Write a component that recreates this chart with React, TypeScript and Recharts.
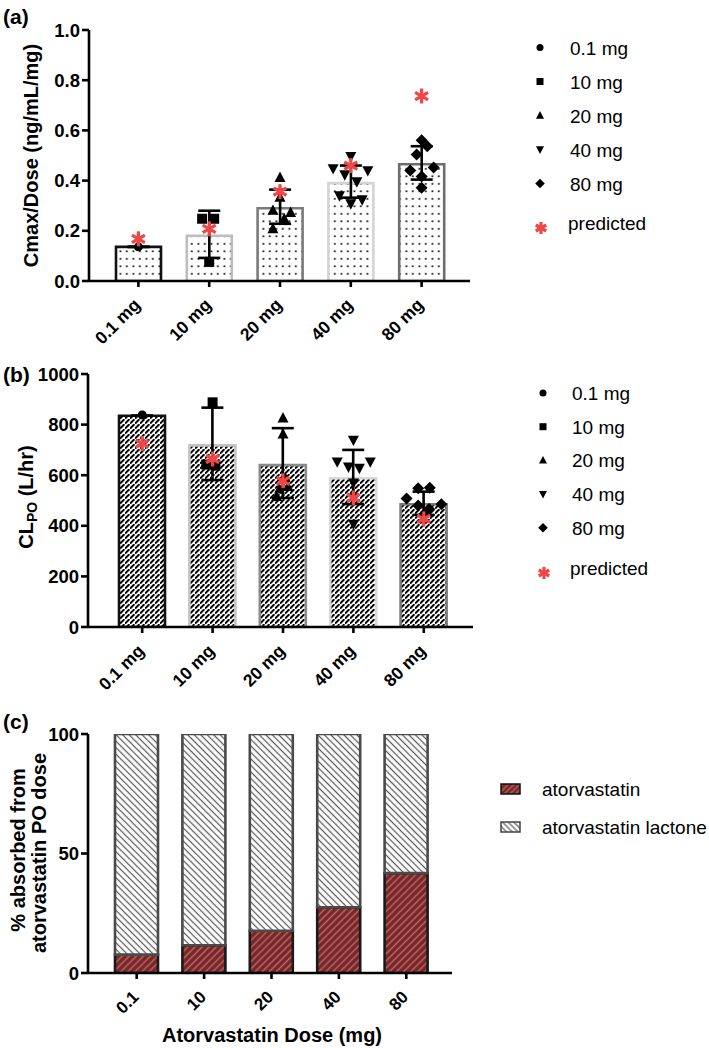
import React from "react";
import { ComposedChart, Bar, Scatter, XAxis, YAxis, ErrorBar, Cell } from "recharts";

const FONT = "'Liberation Sans', Arial, Helvetica, sans-serif";

// ---------- categories ----------
const doseLabels = ["0.1 mg", "10 mg", "20 mg", "40 mg", "80 mg"];
const doseShort = ["0.1", "10", "20", "40", "80"];

// ---------- panel (a): Cmax/Dose ----------
const cmaxMean = [0.136, 0.18, 0.29, 0.39, 0.465];
const cmaxSdLow = [0, 0.088, 0.062, 0.058, 0.061];
const cmaxSdHigh = [0, 0.1, 0.074, 0.07, 0.072];
const cmaxObs01 = [0.136];
const cmaxJit01 = [0];
const cmaxObs10 = [0.248, 0.248, 0.076];
const cmaxJit10 = [-0.1, 0.07, 0];
const cmaxObs20 = [0.412, 0.333, 0.281, 0.273, 0.248, 0.208];
const cmaxJit20 = [0, 0, -0.1, 0.15, 0.06, -0.1];
const cmaxObs40 = [0.496, 0.448, 0.44, 0.424, 0.396, 0.34, 0.324, 0.308];
const cmaxJit40 = [0, -0.25, 0.24, -0.085, 0.085, -0.16, 0.16, 0];
const cmaxObs80 = [0.561, 0.537, 0.504, 0.452, 0.44, 0.416, 0.372];
const cmaxJit80 = [0, 0.08, -0.07, 0.17, -0.16, 0, 0];
const cmaxPred = [0.168, 0.208, 0.356, 0.46, 0.737];
const cmaxTicks = [0, 0.2, 0.4, 0.6, 0.8, 1.0];

// ---------- panel (b): CL_PO ----------
const clMean = [835, 718, 640, 588, 485];
const clSdLow = [0, 137, 130, 102, 42];
const clSdHigh = [0, 149, 146, 112, 50];
const clObs01 = [838];
const clJit01 = [0];
const clObs10 = [888, 642, 638];
const clJit10 = [0, -0.09, 0.04];
const clObs20 = [826, 762, 590, 555, 545, 515];
const clJit20 = [0, 0, 0.03, 0.07, -0.05, -0.09];
const clObs40 = [739, 653, 653, 633, 628, 570, 510, 407];
const clJit40 = [0, -0.23, 0.24, -0.07, 0.085, 0, 0, 0];
const clObs80 = [550, 548, 508, 485, 480, 466, 445];
const clJit80 = [0.085, -0.08, -0.245, 0.25, -0.08, 0.075, 0];
const clPred = [725, 664, 578, 510, 427];
const clTicks = [0, 200, 400, 600, 800, 1000];

// ---------- panel (c): % absorbed ----------
const atorvaPct = [7.7, 11.6, 17.7, 27.5, 41.8];
const lactonePct = [92.3, 88.4, 82.3, 72.5, 58.2];
const pctTicks = [0, 50, 100];

const seriesNamesC = ["atorvastatin", "atorvastatin lactone"];
const markerKinds = ["circle", "square", "up", "down", "diamond"];
const RED = "#EF4646";

// ---------- helpers ----------
const pts = (i: number, vals: number[], jit: number[]) => vals.map((v, k) => ({ x: i + jit[k], y: v }));

function Marker({ kind, cx, cy, s }: any) {
  if (cx == null || cy == null || isNaN(cx) || isNaN(cy)) return null;
  const h = s / 2;
  switch (kind) {
    case "circle":
      return <circle cx={cx} cy={cy} r={h} fill="#000" />;
    case "square":
      return <rect x={cx - h} y={cy - h} width={s} height={s} fill="#000" />;
    case "up":
      return <polygon points={`${cx},${cy - h * 1.1} ${cx - h},${cy + h * 0.8} ${cx + h},${cy + h * 0.8}`} fill="#000" />;
    case "down":
      return <polygon points={`${cx},${cy + h * 1.1} ${cx - h},${cy - h * 0.8} ${cx + h},${cy - h * 0.8}`} fill="#000" />;
    case "diamond":
      return <polygon points={`${cx},${cy - h * 1.2} ${cx + h * 1.2},${cy} ${cx},${cy + h * 1.2} ${cx - h * 1.2},${cy}`} fill="#000" />;
    case "star": {
      const c = Math.cos(Math.PI / 6) * h;
      const sn = Math.sin(Math.PI / 6) * h;
      return (
        <g stroke={RED} strokeWidth={3.2}>
          <line x1={cx} y1={cy - h} x2={cx} y2={cy + h} />
          <line x1={cx - c} y1={cy - sn} x2={cx + c} y2={cy + sn} />
          <line x1={cx - c} y1={cy + sn} x2={cx + c} y2={cy - sn} />
        </g>
      );
    }
    default:
      return null;
  }
}

const shapeOf = (kind: string, s: number) => (p: any) => <Marker kind={kind} cx={p.cx} cy={p.cy} s={s} />;

const RotTick = (props: any) => {
  const { x, y, payload, fs } = props;
  return (
    <g transform={`translate(${x + 3},${y + 17}) rotate(-45)`}>
      <text x={0} y={0} textAnchor="end" fontFamily={FONT} fontWeight={700} fontSize={fs} fill="#000">
        {payload.value}
      </text>
    </g>
  );
};

const AX = { stroke: "#000", strokeWidth: 2.6 };
const YTICK = { fill: "#000", fontSize: 18.5, fontWeight: 700, fontFamily: FONT };

function PanelAB(props: any) {
  const { top, height, rows, domain, ticks, fmt, barSize, pad, yAxisWidth, marginRight, strokes, fill, patternDef, groups } = props;
  return (
    <div style={{ position: "absolute", left: 0, top }}>
      <ComposedChart width={490} height={height} data={rows} margin={{ top: 30, right: marginRight, bottom: 0, left: 0 }}>
        <defs>{patternDef}</defs>
        <XAxis xAxisId="cat" dataKey="dose" type="category" padding={pad} height={72} axisLine={AX} tickLine={AX} tickSize={6} tickMargin={2} interval={0} tick={<RotTick fs={17.5} />} />
        <XAxis xAxisId="num" dataKey="x" type="number" domain={[-0.5, 4.5]} allowDataOverflow padding={pad} hide />
        <YAxis width={yAxisWidth} type="number" domain={domain} ticks={ticks} interval={0} allowDataOverflow tickFormatter={fmt} axisLine={AX} tickLine={AX} tickSize={7} tickMargin={2} tick={YTICK} />
        <Bar xAxisId="cat" dataKey="mean" barSize={barSize} isAnimationActive={false}>
          {rows.map((r: any, i: number) => (
            <Cell key={i} fill={fill} stroke={strokes[i]} strokeWidth={2.6} />
          ))}
          <ErrorBar dataKey="err" width={11} strokeWidth={2.6} stroke="#000" direction="y" />
        </Bar>
        {groups.map((g: any, i: number) => (
          <Scatter key={i} xAxisId="num" data={g.data} dataKey="y" shape={shapeOf(g.kind, g.size)} isAnimationActive={false} />
        ))}
      </ComposedChart>
    </div>
  );
}

const aRows = doseLabels.map((d, i) => ({ dose: d, mean: cmaxMean[i], err: [cmaxSdLow[i], cmaxSdHigh[i]] }));
const bRows = doseLabels.map((d, i) => ({ dose: d, mean: clMean[i], err: [clSdLow[i], clSdHigh[i]] }));
const cRows = doseShort.map((d, i) => ({ dose: d, atorva: atorvaPct[i], lactone: lactonePct[i] }));

const aGroups = [
  { kind: "circle", size: 9, data: pts(0, cmaxObs01, cmaxJit01) },
  { kind: "square", size: 10, data: pts(1, cmaxObs10, cmaxJit10) },
  { kind: "up", size: 11, data: pts(2, cmaxObs20, cmaxJit20) },
  { kind: "down", size: 11, data: pts(3, cmaxObs40, cmaxJit40) },
  { kind: "diamond", size: 10, data: pts(4, cmaxObs80, cmaxJit80) },
  { kind: "star", size: 15, data: cmaxPred.map((v, i) => ({ x: i, y: v })) },
];
const bGroups = [
  { kind: "circle", size: 9, data: pts(0, clObs01, clJit01) },
  { kind: "square", size: 10, data: pts(1, clObs10, clJit10) },
  { kind: "up", size: 11, data: pts(2, clObs20, clJit20) },
  { kind: "down", size: 11, data: pts(3, clObs40, clJit40) },
  { kind: "diamond", size: 10, data: pts(4, clObs80, clJit80) },
  { kind: "star", size: 15, data: clPred.map((v, i) => ({ x: i, y: v })) },
];

const dotsDef = (
  <pattern id="dotsA" width={6.5} height={7.5} patternUnits="userSpaceOnUse">
    <rect width={6.5} height={7.5} fill="#fff" />
    <rect x={2.5} y={3} width={1.7} height={1.7} fill="#000" />
  </pattern>
);
const hatchDef = (
  <pattern id="hatchB" width={5} height={5} patternUnits="userSpaceOnUse">
    <rect width={5} height={5} fill="#fff" />
    <line x1={0} y1={4.6} x2={4.4} y2={0.2} stroke="#000" strokeWidth={2.0} />
  </pattern>
);

function Legend({ x0, tx, y0, step, starY, predY }: any) {
  return (
    <g>
      {doseLabels.map((d, i) => (
        <g key={d}>
          <Marker kind={markerKinds[i]} cx={x0} cy={y0 + i * step} s={i >= 2 ? 8 : 7} />
          <text x={tx} y={y0 + i * step + 7} fontFamily={FONT} fontSize={19} fill="#000">
            {d}
          </text>
        </g>
      ))}
      <Marker kind="star" cx={x0 + 1} cy={starY} s={12} />
      <text x={tx - 2} y={predY} fontFamily={FONT} fontSize={19} fill="#000">
        predicted
      </text>
    </g>
  );
}

export default function App() {
  return (
    <div style={{ position: "absolute", left: 0, top: 0, width: 709, height: 1048, background: "#fff", overflow: "hidden" }}>
      <PanelAB
        top={0}
        height={353}
        rows={aRows}
        domain={[0, 1]}
        ticks={cmaxTicks}
        fmt={(v: number) => v.toFixed(1)}
        barSize={45}
        pad={{ left: 14, right: 13 }}
        yAxisWidth={89}
        marginRight={20}
        strokes={["#111", "#bdbdbd", "#7a7a7a", "#d4d4d4", "#6e6e6e"]}
        fill="url(#dotsA)"
        patternDef={dotsDef}
        groups={aGroups}
      />
      <PanelAB
        top={344}
        height={355}
        rows={bRows}
        domain={[0, 1000]}
        ticks={clTicks}
        fmt={(v: number) => String(v)}
        barSize={46}
        pad={{ left: 19, right: 14 }}
        yAxisWidth={88}
        marginRight={17}
        strokes={["#111", "#c4c4c4", "#8a8a8a", "#d8d8d8", "#7a7a7a"]}
        fill="url(#hatchB)"
        patternDef={hatchDef}
        groups={bGroups}
      />
      <div style={{ position: "absolute", left: 0, top: 700 }}>
        <ComposedChart width={490} height={348} data={cRows} margin={{ top: 34, right: 38, bottom: 0, left: 0 }}>
          <defs>
            <pattern id="redH" width={5} height={5} patternUnits="userSpaceOnUse" patternTransform="rotate(45)">
              <rect width={5} height={5} fill="#732628" />
              <line x1={2.5} y1={0} x2={2.5} y2={5} stroke="#c26464" strokeWidth={1.5} />
            </pattern>
            <pattern id="grayH" width={4.6} height={4.6} patternUnits="userSpaceOnUse" patternTransform="rotate(-45)">
              <rect width={4.6} height={4.6} fill="#fff" />
              <line x1={2.3} y1={0} x2={2.3} y2={4.6} stroke="#555" strokeWidth={1.2} />
            </pattern>
          </defs>
          <XAxis dataKey="dose" type="category" padding={{ left: 15, right: 12 }} height={75} axisLine={AX} tickLine={AX} tickSize={6} tickMargin={2} interval={0} tick={<RotTick fs={17} />} />
          <YAxis width={88} type="number" domain={[0, 100]} ticks={pctTicks} interval={0} allowDataOverflow axisLine={AX} tickLine={AX} tickSize={7} tickMargin={2} tick={YTICK} />
          <Bar dataKey="atorva" name={seriesNamesC[0]} stackId="s" barSize={43} fill="url(#redH)" stroke="#1a1a1a" strokeWidth={2.6} isAnimationActive={false} />
          <Bar dataKey="lactone" name={seriesNamesC[1]} stackId="s" barSize={43} fill="url(#grayH)" stroke="#4a4a4a" strokeWidth={2.6} isAnimationActive={false} />
        </ComposedChart>
      </div>

      <svg width={709} height={1048} style={{ position: "absolute", left: 0, top: 0, pointerEvents: "none" }}>
        <defs>
          <pattern id="redHL" width={4} height={4} patternUnits="userSpaceOnUse" patternTransform="rotate(45)">
            <rect width={4} height={4} fill="#732628" />
            <line x1={2} y1={0} x2={2} y2={4} stroke="#c26464" strokeWidth={1.3} />
          </pattern>
          <pattern id="grayHL" width={4} height={4} patternUnits="userSpaceOnUse" patternTransform="rotate(-45)">
            <rect width={4} height={4} fill="#fff" />
            <line x1={2} y1={0} x2={2} y2={4} stroke="#555" strokeWidth={1.2} />
          </pattern>
        </defs>
        <g fontFamily={FONT} fontWeight={700} fill="#000">
          <text x={3} y={24} fontSize={21}>(a)</text>
          <text x={3} y={382} fontSize={21}>(b)</text>
          <text x={3} y={729} fontSize={21}>(c)</text>
          <text x={38} y={155.5} fontSize={20} textAnchor="middle" transform="rotate(-90,38,155.5)">
            Cmax/Dose (ng/mL/mg)
          </text>
          <text x={33} y={497} fontSize={20} textAnchor="middle" transform="rotate(-90,33,497)">
            CL<tspan fontSize={14} dy={4}>PO</tspan>
            <tspan dy={-4}> (L/hr)</tspan>
          </text>
          <text x={25} y={850} fontSize={20} textAnchor="middle" transform="rotate(-90,25,850)">
            % absorbed from
          </text>
          <text x={46} y={853} fontSize={20} textAnchor="middle" transform="rotate(-90,46,853)">
            atorvastatin PO dose
          </text>
          <text x={272} y={1042} fontSize={20} textAnchor="middle">
            Atorvastatin Dose (mg)
          </text>
        </g>
        <Legend x0={540} tx={570} y0={47.5} step={34} starY={228} predY={230} />
        <Legend x0={543} tx={572} y0={393} step={33.7} starY={573} predY={575} />
        <g>
          <rect x={501} y={784} width={19} height={10} fill="url(#redHL)" stroke="#111" strokeWidth={1.5} />
          <text x={542} y={796} fontFamily={FONT} fontSize={19} fill="#000">{seriesNamesC[0]}</text>
          <rect x={501} y={822} width={19} height={10} fill="url(#grayHL)" stroke="#444" strokeWidth={1.5} />
          <text x={542} y={834} fontFamily={FONT} fontSize={19} fill="#000">{seriesNamesC[1]}</text>
        </g>
      </svg>
    </div>
  );
}
